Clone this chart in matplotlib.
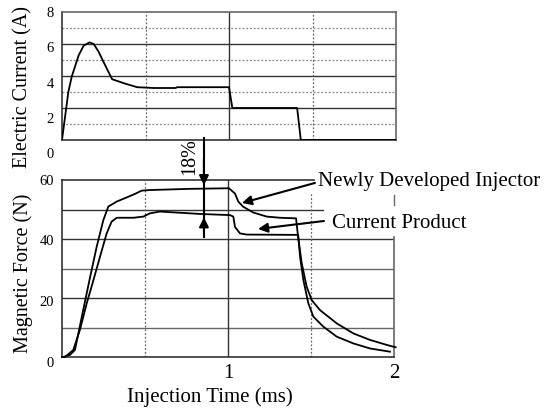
import matplotlib
matplotlib.use("Agg")
import matplotlib.pyplot as plt
from matplotlib.transforms import blended_transform_factory

plt.rcParams['font.family'] = ['Liberation Serif', 'DejaVu Serif']

# ---------------- data ----------------
current_t = [0.0, 0.038, 0.058, 0.10, 0.13, 0.165, 0.19, 0.22, 0.25, 0.30, 0.37, 0.45,
             0.55, 0.68, 0.69, 1.0, 1.02, 1.408, 1.43, 2.0]
current_a = [0.0, 3.0, 3.95, 5.3, 5.9, 6.1, 6.0, 5.5, 4.85, 3.8, 3.55, 3.3,
             3.25, 3.25, 3.3, 3.3, 2.0, 2.0, 0.0, 0.0]

new_t = [0.0, 0.008, 0.048, 0.078, 0.128, 0.169, 0.209, 0.249, 0.279, 0.330, 0.390,
         0.440, 0.480, 0.530, 0.77, 1.006, 1.042, 1.062, 1.090, 1.151, 1.233, 1.313,
         1.410, 1.422, 1.444, 1.474, 1.504, 1.554, 1.655, 1.755, 1.855, 1.956, 2.01]
new_f = [0.0, 0.0, 0.7, 2.4, 16, 27, 37.4, 46.4, 51, 52.7, 54.1,
         55.3, 56.4, 56.6, 57.0, 57.2, 55.4, 52.7, 51, 49, 47.6, 47.2,
         47.0, 40.8, 31.8, 23.8, 19.3, 15.9, 11.4, 8.0, 5.8, 4.1, 3.3]

cur_t = [0.0, 0.018, 0.068, 0.108, 0.149, 0.189, 0.229, 0.269, 0.299, 0.330, 0.430,
         0.490, 0.530, 0.590, 0.83, 1.012, 1.032, 1.042, 1.072, 1.113, 1.410,
         1.423, 1.434, 1.454, 1.484, 1.514, 1.574, 1.655, 1.755, 1.855, 1.976]
cur_f = [0.0, 0.0, 2.4, 9.2, 18.2, 26, 34, 41.9, 45.9, 47.2, 47.2,
         47.6, 48.7, 49.3, 48.5, 48.1, 47.6, 44.1, 41.9, 41.5, 41.4,
         41.4, 34, 26.1, 18.2, 13.7, 10.3, 6.9, 4.6, 2.9, 1.8]

current_ticks = [0, 2, 4, 6, 8]
force_ticks = [0, 20, 40, 60]
time_ticks = [1, 2]
time_tick_labels = ['1', '2']
series_labels = ['Newly Developed Injector', 'Current Product']

# ---------------- figure ----------------
W, H = 548, 413
fig = plt.figure(figsize=(W / 100, H / 100), dpi=100)

def ax_rect(l, t, r, b):
    return [l / W, 1 - b / H, (r - l) / W, (b - t) / H]

ax1 = fig.add_axes(ax_rect(62, 12, 396, 140))
ax2 = fig.add_axes(ax_rect(62, 180, 394, 357))

dark = '#333333'
mid = '#666666'
light = '#888888'

# ---- top: electric current ----
ax1.set_xlim(0, 2)
ax1.set_ylim(0, 8)
for v in [2, 4, 6]:
    ax1.axhline(v, color=dark, lw=1.0, zorder=1)
for v in [1, 3, 5, 7]:
    ax1.axhline(v, color=light, lw=0.9, ls=(0, (1.5, 1.5)), zorder=1)
ax1.axvline(1.0, color=dark, lw=1.0, zorder=1)
for v in [0.5, 1.5]:
    ax1.axvline(v, color=mid, lw=0.9, ls=(0, (1.5, 1.5)), zorder=1)
ax1.plot(current_t, current_a, color='black', lw=1.3, zorder=3)
ax1.set_xticks([])
ax1.set_yticks([])
for s in ['left', 'bottom']:
    ax1.spines[s].set_color(dark)
    ax1.spines[s].set_linewidth(1.2)
for s in ['top', 'right']:
    ax1.spines[s].set_color(mid)
    ax1.spines[s].set_linewidth(1.2)
for v in current_ticks:
    ax1.text(-0.024, -0.117 + v * 0.1386, str(v), transform=ax1.transAxes,
             ha='right', va='center', fontsize=10.5)

# ---- bottom: magnetic force ----
ax2.set_xlim(0, 2)
ax2.set_ylim(0, 60)
for v in [10, 20, 30, 40]:
    ax2.axhline(v, color=dark if v in (20, 40) else mid, lw=1.0, zorder=1)
ax2.axhline(50, xmin=0, xmax=1.572 / 2, color=dark, lw=1.0, zorder=1)
ax2.axhline(60, xmin=0, xmax=1.52 / 2, color=dark, lw=1.2, zorder=1, clip_on=False)
ax2.axvline(1.0, color=dark, lw=1.0, zorder=1)
ax2.axvline(0.5, color=mid, lw=0.9, ls=(0, (1.5, 1.5)), zorder=1)
ax2.axvline(1.5, ymin=0, ymax=55.8 / 60, color=mid, lw=0.9, ls=(0, (1.5, 1.5)), zorder=1)
ax2.axvline(2.0, ymin=0, ymax=40.7 / 60, color=mid, lw=1.2, zorder=1, clip_on=False)
ax2.axvline(2.0, ymin=51.5 / 60, ymax=54.9 / 60, color=mid, lw=1.0, zorder=1, clip_on=False)
ax2.plot(new_t, new_f, color='black', lw=1.3, zorder=3, clip_on=False)
ax2.plot(cur_t, cur_f, color='black', lw=1.3, zorder=3, clip_on=False)
ax2.spines['top'].set_visible(False)
ax2.spines['right'].set_visible(False)
for s in ['left', 'bottom']:
    ax2.spines[s].set_color(dark)
    ax2.spines[s].set_linewidth(1.2)
ax2.set_yticks([])
ax2.set_xticks(time_ticks)
ax2.set_xticklabels(time_tick_labels, fontsize=15)
ax2.tick_params(axis='x', length=0, pad=5)
for v in force_ticks:
    ax2.text(-0.024, -0.034 + v * 0.01713, str(v), transform=ax2.transAxes,
             ha='right', va='center', fontsize=10.5)

# 18 % double arrow
xa = 0.855
ax2.plot([xa, xa], [74.2, 40.7], color='black', lw=1.5, clip_on=False, zorder=4)
ax2.annotate('', xy=(xa, 57.3), xytext=(xa, 68), annotation_clip=False,
             arrowprops=dict(arrowstyle='-|>', color='black', lw=1.5, mutation_scale=14))
ax2.annotate('', xy=(xa, 48.3), xytext=(xa, 41), annotation_clip=False,
             arrowprops=dict(arrowstyle='-|>', color='black', lw=1.5, mutation_scale=14))
ax2.text(0.771, 67.8, '18%', rotation=90, ha='center', va='center', fontsize=14.5,
         clip_on=False)

# series label leaders
ax2.annotate('', xy=(1.084, 52.2), xytext=(1.524, 59.0), annotation_clip=False,
             arrowprops=dict(arrowstyle='-|>', color='black', lw=1.5, mutation_scale=14,
                             shrinkA=0, shrinkB=0))
ax2.annotate('', xy=(1.181, 43.4), xytext=(1.578, 46.1), annotation_clip=False,
             arrowprops=dict(arrowstyle='-|>', color='black', lw=1.5, mutation_scale=14,
                             shrinkA=0, shrinkB=0))
ax2.text(1.542, 58.0, series_labels[0], ha='left', va='baseline', fontsize=15, clip_on=False)
ax2.text(1.627, 43.7, series_labels[1], ha='left', va='baseline', fontsize=15, clip_on=False)

# axis titles
fig.text(23 / W, 1 - 86.5 / H, 'Electric Current (A)', rotation=90, ha='center', va='center',
         fontsize=14.5)
fig.text(23 / W, 1 - 273 / H, 'Magnetic Force (N)', rotation=90, ha='center', va='center',
         fontsize=14.5)
fig.text(210 / W, 1 - 397 / H, 'Injection Time (ms)', ha='center', va='center', fontsize=15)

fig.savefig('out.png', dpi=100)
